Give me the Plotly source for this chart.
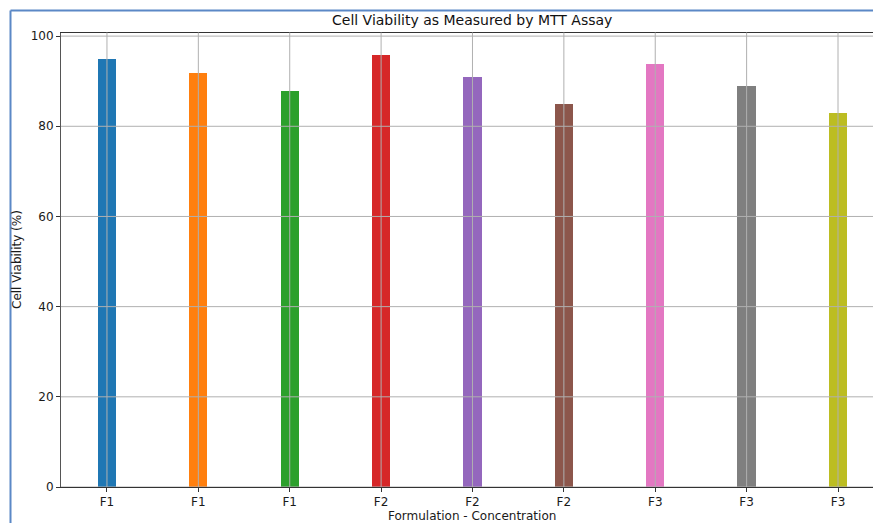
import plotly.graph_objects as go

# Cell viability per formulation (MTT assay)
labels = ["F1", "F1", "F1", "F2", "F2", "F2", "F3", "F3", "F3"]
viability = [95, 92, 88, 96, 91, 85, 94, 89, 83]
colors = ["#1f77b4", "#ff7f0e", "#2ca02c", "#d62728", "#9467bd",
          "#8c564b", "#e377c2", "#7f7f7f", "#bcbd22"]
y_ticks = [0, 20, 40, 60, 80, 100]

W, H = 873, 523
positions = list(range(len(labels)))

# plot-area placement in pixels
left_px, top_px, bottom_px = 61, 32.5, 487
x_dom = [left_px / W, 1.0]
y_dom = [(H - bottom_px) / H, (H - top_px) / H]

fig = go.Figure()
fig.add_trace(go.Bar(
    x=positions, y=viability, width=0.2,
    marker=dict(color=colors, line=dict(width=0)),
    showlegend=False,
))

grid_color = "#b0b0b0"
shapes = []
# grid lines drawn on top of the bars
for t in y_ticks:
    shapes.append(dict(type="line", xref="x domain", yref="y", x0=0, x1=1,
                       y0=t, y1=t, line=dict(color=grid_color, width=1),
                       layer="above"))
for p in positions:
    shapes.append(dict(type="line", xref="x", yref="y domain", x0=p, x1=p,
                       y0=0, y1=1, line=dict(color=grid_color, width=1),
                       layer="above"))
# outer frame lines along the top and left edges
frame_col = "#5b88c6"
fx = 10.5 / W
fy = 1 - 10.5 / H
shapes.append(dict(type="line", xref="paper", yref="paper", x0=fx, x1=1,
                   y0=fy, y1=fy, line=dict(color=frame_col, width=2)))
shapes.append(dict(type="line", xref="paper", yref="paper", x0=fx, x1=fx,
                   y0=0, y1=fy, line=dict(color=frame_col, width=2)))

font = "DejaVu Sans, sans-serif"
fig.update_layout(
    width=W, height=H,
    margin=dict(l=0, r=0, t=0, b=0, autoexpand=False),
    paper_bgcolor="white", plot_bgcolor="white",
    font=dict(family=font, size=11.5, color="#1a1a1a"),
    shapes=shapes,
    bargap=0,
    xaxis=dict(
        domain=x_dom, range=[-0.503, 8.383], automargin=False,
        tickmode="array", tickvals=positions, ticktext=labels,
        showgrid=False, zeroline=False,
        showline=True, linecolor="#333", linewidth=1, mirror=True,
        ticks="outside", ticklen=4, tickcolor="#333",
        tickfont=dict(size=12, color="#1a1a1a"),
    ),
    yaxis=dict(
        domain=y_dom, range=[0, 100.8], automargin=False,
        tickmode="array", tickvals=y_ticks,
        showgrid=False, zeroline=False,
        showline=True, linecolor="#555", linewidth=1, mirror=False,
        ticks="outside", ticklen=4, tickcolor="#333",
        tickfont=dict(size=12, color="#1a1a1a"),
    ),
    annotations=[
        dict(text="Cell Viability as Measured by MTT Assay", xref="paper",
             yref="paper", x=472.5 / W, y=1 - 20 / H, xanchor="center",
             yanchor="middle", showarrow=False,
             font=dict(size=14, color="#111", family=font)),
        dict(text="Formulation - Concentration", xref="paper", yref="paper",
             x=472.5 / W, y=1 - 515.5 / H, xanchor="center", yanchor="middle",
             showarrow=False, font=dict(size=12, color="#1a1a1a", family=font)),
        dict(text="Cell Viability (%)", xref="paper", yref="paper",
             x=17 / W, y=1 - 260 / H, xanchor="center", yanchor="middle",
             textangle=-90, showarrow=False,
             font=dict(size=12, color="#1a1a1a", family=font)),
    ],
)

fig.write_html("out.html")
